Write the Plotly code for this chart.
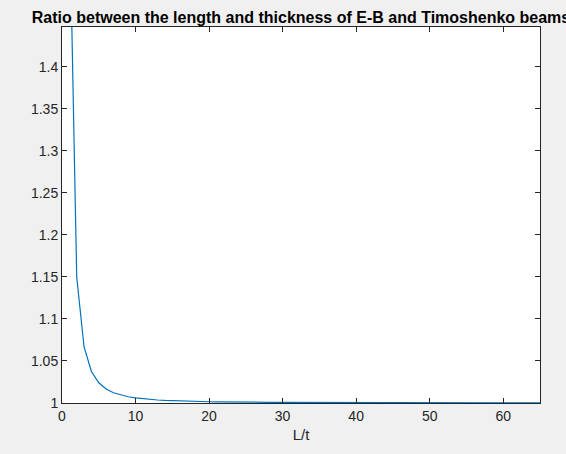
import plotly.graph_objects as go

# L/t ratio values (x) and E-B / Timoshenko ratio (y)
lt = list(range(1, 66))
ratio = [1.6, 1.15, 1.0667, 1.0375, 1.024, 1.0167, 1.0122, 1.0094, 1.0074, 1.006,
         1.005, 1.0042, 1.0036, 1.0031, 1.0027, 1.0023, 1.0021, 1.0019, 1.0017, 1.0015,
         1.0014, 1.0012, 1.0011, 1.001, 1.001, 1.0009, 1.0008, 1.0008, 1.0007, 1.0007,
         1.0006, 1.0006, 1.0006, 1.0005, 1.0005, 1.0005, 1.0004, 1.0004, 1.0004, 1.0004,
         1.0004, 1.0004, 1.0003, 1.0003, 1.0003, 1.0003, 1.0003, 1.0003, 1.0003, 1.0002,
         1.0002, 1.0002, 1.0002, 1.0002, 1.0002, 1.0002, 1.0002, 1.0002, 1.0002, 1.0002,
         1.0002, 1.0001, 1.0001, 1.0001, 1.0001]

x_ticks = [0, 10, 20, 30, 40, 50, 60]
y_ticks = [1, 1.05, 1.1, 1.15, 1.2, 1.25, 1.3, 1.35, 1.4]
y_labels = ["1", "1.05", "1.1", "1.15", "1.2", "1.25", "1.3", "1.35", "1.4"]

title_text = "Ratio between the length and thickness of E-B and Timoshenko beams"

fig = go.Figure()
fig.add_trace(go.Scatter(x=lt, y=ratio, mode="lines",
                         line=dict(color="#0072BD", width=1.2), showlegend=False))

axis_common = dict(
    showgrid=False, zeroline=False, showline=True, linecolor="#262626", linewidth=1,
    mirror="ticks", ticks="inside", ticklen=5, tickcolor="#262626", tickwidth=1,
    tickfont=dict(family="Liberation Sans, Arial", size=14, color="#262626"),
)

fig.update_layout(
    width=566, height=454,
    paper_bgcolor="#f0f0f0", plot_bgcolor="#ffffff",
    margin=dict(l=62, r=26, t=27, b=51),
    title=dict(text="<b>" + title_text + "</b>", x=0.5, xref="paper", xanchor="center",
               y=1, yref="paper", yanchor="bottom", pad=dict(b=4),
               font=dict(family="Liberation Sans, Arial", size=16, color="#000000")),
    xaxis=dict(range=[0, 65], tickvals=x_ticks, **axis_common,
               title=dict(text="L/t", standoff=6,
                          font=dict(family="Liberation Sans, Arial", size=15, color="#262626"))),
    yaxis=dict(range=[1, 1.4475], tickvals=y_ticks, ticktext=y_labels, **axis_common),
)

fig.write_html("out.html")
